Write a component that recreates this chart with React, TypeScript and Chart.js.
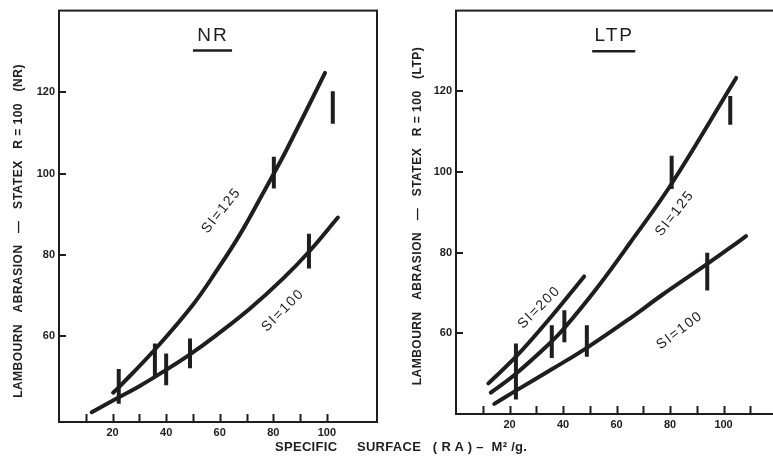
import React, { useEffect, useRef } from 'react';
import { Chart, registerables } from 'chart.js';

Chart.register(...registerables);

// ---------- data ----------
// NR panel, curve SI=125
const nrX125 = [20.2, 22.3, 35.8, 50, 58.9, 67.5, 76.1, 80.2, 85, 99.3];
const nrY125 = [46.2, 47.5, 56.8, 67.8, 76.2, 85, 95.1, 100, 105.9, 124.7];
// NR panel, curve SI=100
const nrX100 = [12.2, 21, 30, 40, 48.9, 58.9, 71.2, 83.6, 93.3, 104.1];
const nrY100 = [41.4, 44.6, 47.8, 51.8, 55.6, 60.4, 66.8, 74.2, 80.8, 89.2];
// NR panel, vertical range bars
const nrBarX = [22.3, 35.8, 40, 48.9, 80.2, 93.3, 102.2];
const nrBarLo = [43.5, 50, 48, 52.2, 96.3, 76.7, 112.2];
const nrBarHi = [52, 58.3, 55.8, 59.5, 104.1, 85.2, 120.2];

// LTP panel, curve SI=200
const ltpX200 = [12.1, 22.4, 35.8, 47.9];
const ltpY200 = [47.6, 54.2, 64.3, 74.1];
// LTP panel, curve SI=125
const ltpX125 = [13, 22.4, 35.8, 40.5, 52.4, 64.8, 80.7, 104.7];
const ltpY125 = [45.3, 50, 58, 61.3, 71, 82.2, 97.2, 123.3];
// LTP panel, curve SI=100
const ltpX100 = [14.3, 22.4, 36.1, 48.9, 64.8, 77, 93.9, 102.2, 108.4];
const ltpY100 = [42.5, 45.8, 51.2, 56.4, 63.6, 69.5, 77.2, 81.1, 84.1];
// LTP panel, vertical range bars
const ltpBarX = [22.4, 35.8, 40.5, 48.9, 80.6, 93.9, 102.5];
const ltpBarLo = [43.6, 53.9, 57.8, 54.2, 95.8, 70.6, 111.7];
const ltpBarHi = [57.5, 62, 65.7, 62, 104, 80, 118.8];

// ticks
const nrXTicks = [10, 20, 30, 40, 50, 60, 70, 80, 90, 100];
const ltpXTicks = [10, 20, 30, 40, 50, 60, 70, 80, 90, 100, 110];
const yTicks = [60, 80, 100, 120];

// texts
const NR_TITLE = 'NR';
const LTP_TITLE = 'LTP';
const NR_Y_TITLE = 'LAMBOURN   ABRASION   —   STATEX   R = 100   (NR)';
const LTP_Y_TITLE = 'LAMBOURN   ABRASION   —   STATEX   R = 100   (LTP)';
const X_TITLE = 'SPECIFIC     SURFACE   ( R A ) –  M² /g.';

// ---------- styling ----------
const INK = '#1e1e1e';
const FONT = '"Liberation Sans", Arial, sans-serif';

type Label = { text: string; x: number; y: number; angle: number };
type Spec = {
  left: number;
  width: number;
  padTop: number;
  xAxisH: number;
  yAxisW: number;
  xMin: number;
  xMax: number;
  yMin: number;
  yMax: number;
  xTicks: number[];
  curves: { x: number[]; y: number[] }[];
  barX: number[];
  barLo: number[];
  barHi: number[];
  title: string;
  titleAt: { x: number; y: number };
  underline: { x0: number; x1: number; y: number };
  yTitle: string;
  yTitlePos: { cx: number; cy: number };
  labels: Label[];
};

const nrSpec: Spec = {
  left: 0,
  width: 380,
  padTop: 10,
  xAxisH: 34,
  yAxisW: 59,
  xMin: 0,
  xMax: 118.7,
  yMin: 39,
  yMax: 140,
  xTicks: nrXTicks,
  curves: [
    { x: nrX125, y: nrY125 },
    { x: nrX100, y: nrY100 },
  ],
  barX: nrBarX,
  barLo: nrBarLo,
  barHi: nrBarHi,
  title: NR_TITLE,
  titleAt: { x: 57.1, y: 133.9 },
  underline: { x0: 50, x1: 64.6, y: 130.2 },
  yTitle: NR_Y_TITLE,
  yTitlePos: { cx: 19, cy: 231 },
  labels: [
    { text: 'SI=125', x: 60.6, y: 90.9, angle: -51 },
    { text: 'SI=100', x: 83.6, y: 66.4, angle: -45 },
  ],
};

const ltpSpec: Spec = {
  left: 398,
  width: 400,
  padTop: 8,
  xAxisH: 42,
  yAxisW: 58,
  xMin: 0,
  xMax: 126.7,
  yMin: 40,
  yMax: 140,
  xTicks: ltpXTicks,
  curves: [
    { x: ltpX200, y: ltpY200 },
    { x: ltpX125, y: ltpY125 },
    { x: ltpX100, y: ltpY100 },
  ],
  barX: ltpBarX,
  barLo: ltpBarLo,
  barHi: ltpBarHi,
  title: LTP_TITLE,
  titleAt: { x: 58.8, y: 133.8 },
  underline: { x0: 50.9, x1: 67, y: 129.9 },
  yTitle: LTP_Y_TITLE,
  yTitlePos: { cx: 19.5, cy: 216 },
  labels: [
    { text: 'SI=125', x: 81.8, y: 89.7, angle: -52 },
    { text: 'SI=200', x: 31.1, y: 66.4, angle: -45 },
    { text: 'SI=100', x: 83.6, y: 60.7, angle: -37 },
  ],
};

function makePlugin(spec: Spec) {
  return {
    id: 'panelDecor',
    afterDraw(chart: any) {
      const { ctx, chartArea: a, scales } = chart;
      const sx = scales.x;
      const sy = scales.y;
      ctx.save();
      ctx.strokeStyle = INK;
      ctx.fillStyle = INK;
      // frame
      ctx.lineWidth = 2;
      ctx.strokeRect(a.left, a.top, a.right - a.left, a.bottom - a.top);
      // inward ticks
      ctx.beginPath();
      for (const t of sx.ticks) {
        const px = Math.round(sx.getPixelForValue(t.value)) + 0.5;
        ctx.moveTo(px, a.bottom);
        ctx.lineTo(px, a.bottom - 8);
      }
      for (const t of sy.ticks) {
        const py = Math.round(sy.getPixelForValue(t.value));
        ctx.moveTo(a.left, py);
        ctx.lineTo(a.left + 7, py);
      }
      ctx.stroke();

      // panel title with underline
      ctx.font = `19px ${FONT}`;
      (ctx as any).letterSpacing = '2px';
      ctx.textAlign = 'center';
      ctx.textBaseline = 'middle';
      ctx.fillText(spec.title, sx.getPixelForValue(spec.titleAt.x) + 1, sy.getPixelForValue(spec.titleAt.y));
      ctx.lineWidth = 2.5;
      ctx.beginPath();
      const uy = sy.getPixelForValue(spec.underline.y);
      ctx.moveTo(sx.getPixelForValue(spec.underline.x0), uy);
      ctx.lineTo(sx.getPixelForValue(spec.underline.x1), uy);
      ctx.stroke();

      // curve labels
      ctx.font = `14px ${FONT}`;
      (ctx as any).letterSpacing = '1.5px';
      for (const l of spec.labels) {
        ctx.save();
        ctx.translate(sx.getPixelForValue(l.x), sy.getPixelForValue(l.y));
        ctx.rotate((l.angle * Math.PI) / 180);
        ctx.fillText(l.text, 0, 0);
        ctx.restore();
      }

      // y axis title
      ctx.font = `bold 12px ${FONT}`;
      (ctx as any).letterSpacing = '0.5px';
      ctx.save();
      ctx.translate(spec.yTitlePos.cx, spec.yTitlePos.cy);
      ctx.rotate(-Math.PI / 2);
      ctx.fillText(spec.yTitle, 0, 0);
      ctx.restore();
      (ctx as any).letterSpacing = '0px';
      ctx.restore();
    },
  };
}

function makeConfig(spec: Spec): any {
  const datasets: any[] = [];
  spec.curves.forEach((c) => {
    datasets.push({
      data: c.x.map((x, i) => ({ x, y: c.y[i] })),
      showLine: true,
      borderColor: INK,
      borderWidth: 4,
      pointRadius: 0,
      tension: 0.4,
      borderCapStyle: 'round',
      borderJoinStyle: 'round',
      fill: false,
    });
  });
  spec.barX.forEach((x, i) => {
    datasets.push({
      data: [
        { x, y: spec.barLo[i] },
        { x, y: spec.barHi[i] },
      ],
      showLine: true,
      borderColor: INK,
      borderWidth: 4,
      pointRadius: 0,
      borderCapStyle: 'butt',
      fill: false,
    });
  });
  const tickFont = { family: FONT, size: 11, weight: 'bold' as const };
  return {
    type: 'scatter',
    data: { datasets },
    options: {
      responsive: false,
      animation: false,
      devicePixelRatio: 1,
      layout: { padding: { top: spec.padTop, right: 3, left: 0, bottom: 0 } },
      plugins: {
        legend: { display: false },
        tooltip: { enabled: false },
        title: { display: false },
      },
      scales: {
        x: {
          type: 'linear',
          min: spec.xMin,
          max: spec.xMax,
          grid: { display: false, drawTicks: false },
          border: { display: false },
          afterBuildTicks: (s: any) => {
            s.ticks = spec.xTicks.map((v) => ({ value: v }));
          },
          afterFit: (s: any) => {
            s.height = spec.xAxisH;
          },
          ticks: {
            autoSkip: false,
            maxRotation: 0,
            padding: 4,
            color: INK,
            font: tickFont,
            callback: (v: any) => (Number(v) % 20 === 0 ? String(v) : ''),
          },
        },
        y: {
          type: 'linear',
          min: spec.yMin,
          max: spec.yMax,
          grid: { display: false, drawTicks: false },
          border: { display: false },
          afterBuildTicks: (s: any) => {
            s.ticks = yTicks.map((v) => ({ value: v }));
          },
          afterFit: (s: any) => {
            s.width = spec.yAxisW;
          },
          ticks: {
            autoSkip: false,
            padding: 4,
            color: INK,
            font: tickFont,
            callback: (v: any) => String(v),
          },
        },
      },
    },
    plugins: [makePlugin(spec)],
  };
}

function Panel({ spec }: { spec: Spec }) {
  const ref = useRef<HTMLCanvasElement>(null);
  useEffect(() => {
    if (!ref.current) return;
    const chart = new Chart(ref.current, makeConfig(spec));
    return () => chart.destroy();
  }, [spec]);
  return (
    <canvas
      ref={ref}
      width={spec.width}
      height={456}
      style={{ position: 'absolute', left: spec.left, top: 0, width: spec.width, height: 456 }}
    />
  );
}

export default function App() {
  return (
    <div
      style={{
        position: 'fixed',
        left: 0,
        top: 0,
        width: 773,
        height: 456,
        overflow: 'hidden',
        background: '#ffffff',
      }}
    >
      <Panel spec={nrSpec} />
      <Panel spec={ltpSpec} />
      <div
        style={{
          position: 'absolute',
          left: 275,
          top: 439,
          font: `bold 13px ${FONT}`,
          lineHeight: '15px',
          color: INK,
          whiteSpace: 'pre',
          letterSpacing: '0.3px',
        }}
      >
        {X_TITLE}
      </div>
    </div>
  );
}
